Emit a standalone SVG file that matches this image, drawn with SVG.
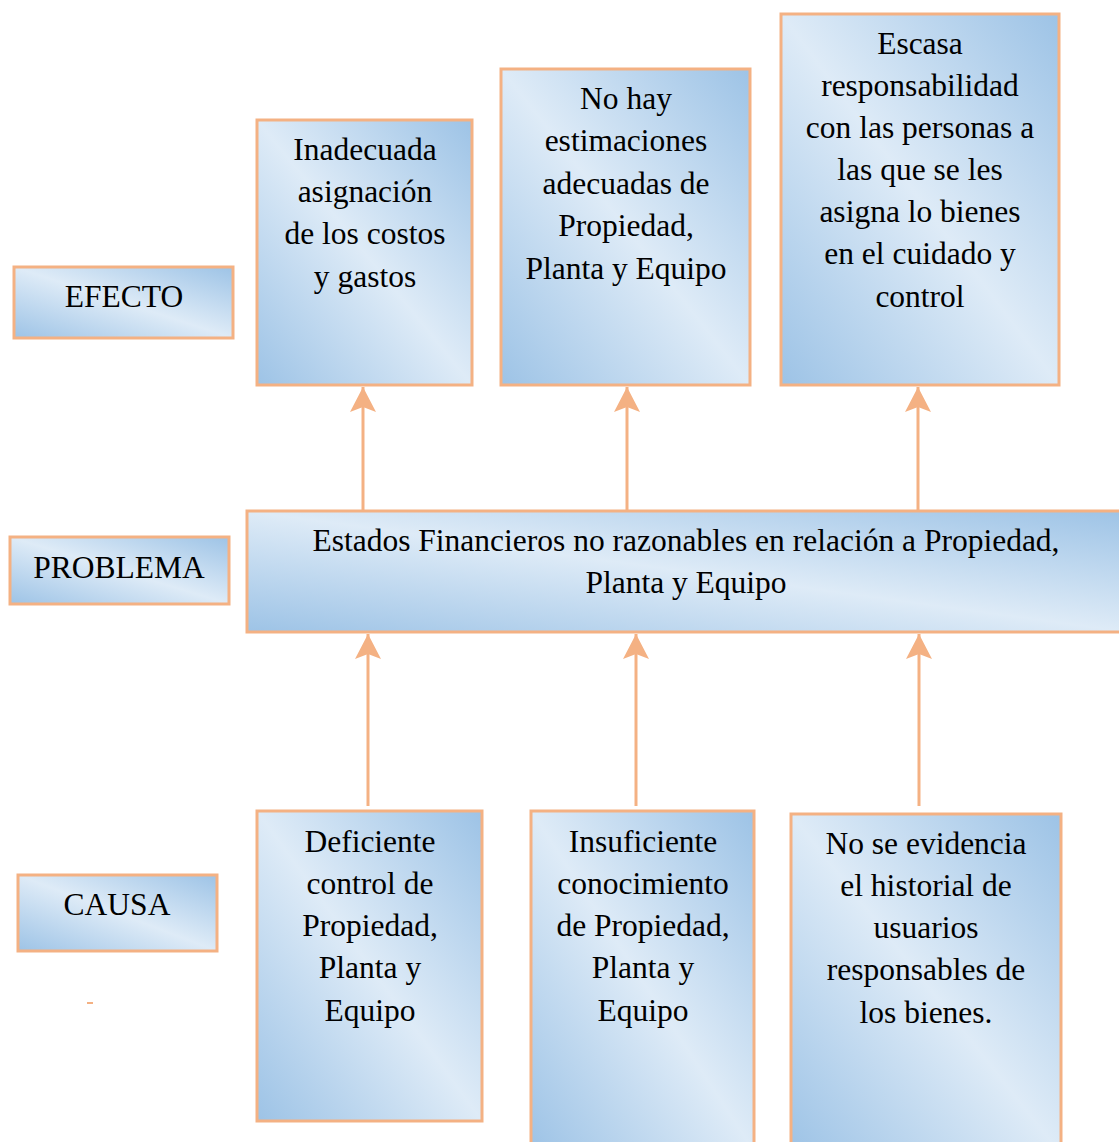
<svg xmlns="http://www.w3.org/2000/svg" width="1119" height="1142" viewBox="0 0 1119 1142">
  <defs>
    <linearGradient id="fill" x1="0" y1="1" x2="1" y2="0">
      <stop offset="0" stop-color="#9dc3e6"/>
      <stop offset="0.5" stop-color="#deebf7"/>
      <stop offset="1" stop-color="#9dc3e6"/>
    </linearGradient>
    <marker id="head" markerUnits="userSpaceOnUse" markerWidth="28" markerHeight="28" viewBox="0 0 28 28" refX="25" refY="14" orient="auto">
      <path d="M25,14 L0,1 L5,14 L0,27 Z" fill="#f4b183"/>
    </marker>
  </defs>
  <style>
    .box { fill: url(#fill); stroke: #f4b183; stroke-width: 3; }
    .t { font-family: "Liberation Serif", "Times New Roman", serif; font-size: 31.5px; fill: #000; text-anchor: middle; }
    .link { stroke: #f4b183; stroke-width: 3; fill: none; marker-end: url(#head); }
  </style>
  <rect width="1119" height="1142" fill="#ffffff"/>

  <!-- row labels -->
  <g id="label-efecto">
    <rect class="box" x="14" y="267" width="219" height="71"/>
    <text class="t" x="124" y="307">EFECTO</text>
  </g>
  <g id="label-problema">
    <rect class="box" x="10" y="537" width="219" height="67"/>
    <text class="t" x="119" y="578">PROBLEMA</text>
  </g>
  <g id="label-causa">
    <rect class="box" x="18" y="875" width="199" height="76"/>
    <text class="t" x="117" y="915">CAUSA</text>
  </g>
  <rect id="dash" x="87" y="1002" width="6" height="2" fill="#f4b183"/>

  <!-- effects -->
  <g id="efecto-1">
    <rect class="box" x="257" y="120" width="215" height="265"/>
    <text class="t" x="365" y="160">Inadecuada</text>
    <text class="t" x="365" y="202">asignación</text>
    <text class="t" x="365" y="244">de los costos</text>
    <text class="t" x="365" y="287">y gastos</text>
  </g>
  <g id="efecto-2">
    <rect class="box" x="501" y="69" width="249" height="316"/>
    <text class="t" x="626" y="109">No hay</text>
    <text class="t" x="626" y="151">estimaciones</text>
    <text class="t" x="626" y="194">adecuadas de</text>
    <text class="t" x="626" y="236">Propiedad,</text>
    <text class="t" x="626" y="279">Planta y Equipo</text>
  </g>
  <g id="efecto-3">
    <rect class="box" x="781" y="14" width="278" height="371"/>
    <text class="t" x="920" y="54">Escasa</text>
    <text class="t" x="920" y="96">responsabilidad</text>
    <text class="t" x="920" y="138">con las personas a</text>
    <text class="t" x="920" y="180">las que se les</text>
    <text class="t" x="920" y="222">asigna lo bienes</text>
    <text class="t" x="920" y="264">en el cuidado y</text>
    <text class="t" x="920" y="307">control</text>
  </g>

  <!-- problem -->
  <g id="problema">
    <rect class="box" x="247" y="511" width="880" height="121"/>
    <text class="t" x="686" y="551">Estados Financieros no razonables en relación a Propiedad,</text>
    <text class="t" x="686" y="593">Planta y Equipo</text>
  </g>

  <!-- causes -->
  <g id="causa-1">
    <rect class="box" x="257" y="811" width="225" height="310"/>
    <text class="t" x="370" y="852">Deficiente</text>
    <text class="t" x="370" y="894">control de</text>
    <text class="t" x="370" y="936">Propiedad,</text>
    <text class="t" x="370" y="978">Planta y</text>
    <text class="t" x="370" y="1021">Equipo</text>
  </g>
  <g id="causa-2">
    <rect class="box" x="531" y="811" width="223" height="340"/>
    <text class="t" x="643" y="852">Insuficiente</text>
    <text class="t" x="643" y="894">conocimiento</text>
    <text class="t" x="643" y="936">de Propiedad,</text>
    <text class="t" x="643" y="978">Planta y</text>
    <text class="t" x="643" y="1021">Equipo</text>
  </g>
  <g id="causa-3">
    <rect class="box" x="791" y="814" width="270" height="340"/>
    <text class="t" x="926" y="854">No se evidencia</text>
    <text class="t" x="926" y="896">el historial de</text>
    <text class="t" x="926" y="938">usuarios</text>
    <text class="t" x="926" y="980">responsables de</text>
    <text class="t" x="926" y="1023">los bienes.</text>
  </g>

  <!-- connectors -->
  <g id="connectors">
    <line class="link" x1="363" y1="511" x2="363" y2="387"/>
    <line class="link" x1="627" y1="511" x2="627" y2="387"/>
    <line class="link" x1="918" y1="511" x2="918" y2="387"/>
    <line class="link" x1="368" y1="806" x2="368" y2="634"/>
    <line class="link" x1="636" y1="806" x2="636" y2="634"/>
    <line class="link" x1="919" y1="806" x2="919" y2="634"/>
  </g>
</svg>
